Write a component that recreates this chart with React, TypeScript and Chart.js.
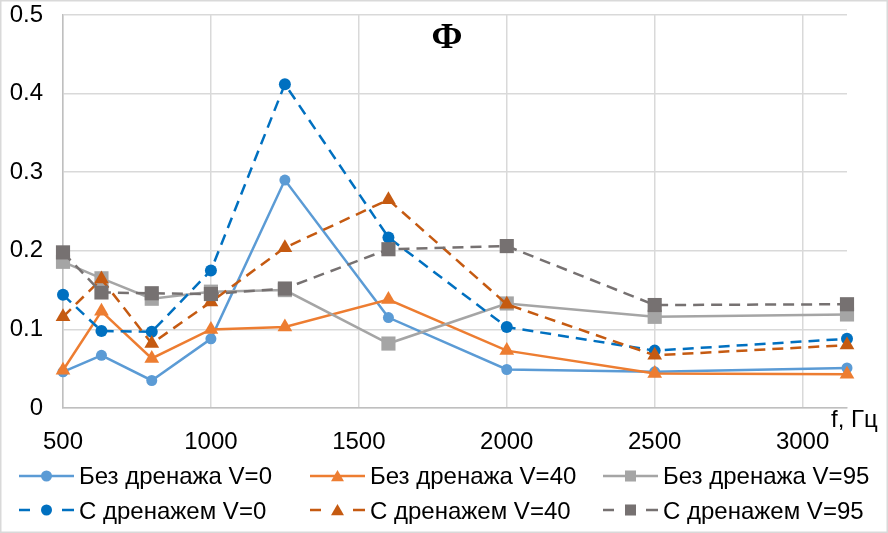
import React, { useEffect, useRef } from "react";
import { Chart, registerables } from "chart.js";

Chart.register(...registerables);

const frequencies = [500, 630, 800, 1000, 1250, 1600, 2000, 2500, 3150];
const noDrainV0 = [0.046, 0.067, 0.035, 0.088, 0.29, 0.115, 0.049, 0.046, 0.051];
const noDrainV40 = [0.048, 0.123, 0.063, 0.1, 0.103, 0.138, 0.073, 0.044, 0.043];
const noDrainV95 = [0.186, 0.165, 0.139, 0.148, 0.15, 0.082, 0.133, 0.116, 0.119];
const drainV0 = [0.144, 0.098, 0.097, 0.175, 0.412, 0.217, 0.103, 0.073, 0.088];
const drainV40 = [0.116, 0.164, 0.082, 0.135, 0.204, 0.265, 0.132, 0.067, 0.08];
const drainV95 = [0.198, 0.147, 0.146, 0.145, 0.152, 0.202, 0.206, 0.131, 0.132];

const xTicks = [500, 1000, 1500, 2000, 2500, 3000];
const yTicks = [0, 0.1, 0.2, 0.3, 0.4, 0.5];

const seriesLabels = [
  "Без дренажа V=0",
  "Без дренажа V=40",
  "Без дренажа V=95",
  "С дренажем V=0",
  "С дренажем V=40",
  "С дренажем V=95",
];
const titleText = "Ф";
const xAxisTitle = "f, Гц";

const FONT = "'Liberation Sans', Arial, sans-serif";

type Style = { color: string; shape: "circle" | "triangle" | "rect"; dashed: boolean; r: number };
const styles: Style[] = [
  { color: "#5B9BD5", shape: "circle", dashed: false, r: 5.5 },
  { color: "#ED7D31", shape: "triangle", dashed: false, r: 8.5 },
  { color: "#A5A5A5", shape: "rect", dashed: false, r: 10 },
  { color: "#0070C0", shape: "circle", dashed: true, r: 6 },
  { color: "#C55A11", shape: "triangle", dashed: true, r: 8.5 },
  { color: "#767171", shape: "rect", dashed: true, r: 10 },
];

function drawMarker(ctx: CanvasRenderingContext2D, shape: string, x: number, y: number, r: number, color: string) {
  ctx.save();
  ctx.fillStyle = color;
  ctx.beginPath();
  if (shape === "circle") {
    ctx.arc(x, y, r, 0, Math.PI * 2);
  } else if (shape === "triangle") {
    let rad = 0;
    ctx.moveTo(x + Math.sin(rad) * r, y - Math.cos(rad) * r);
    rad += (Math.PI * 2) / 3;
    ctx.lineTo(x + Math.sin(rad) * r, y - Math.cos(rad) * r);
    rad += (Math.PI * 2) / 3;
    ctx.lineTo(x + Math.sin(rad) * r, y - Math.cos(rad) * r);
    ctx.closePath();
  } else {
    const s = r * Math.SQRT1_2;
    ctx.rect(x - s, y - s, 2 * s, 2 * s);
  }
  ctx.fill();
  ctx.restore();
}

const overlayPlugin = {
  id: "overlay",
  beforeDraw(chart: any) {
    const ctx = chart.ctx as CanvasRenderingContext2D;
    ctx.save();
    ctx.fillStyle = "#ffffff";
    ctx.fillRect(0, 0, chart.width, chart.height);
    ctx.restore();
  },
  afterDraw(chart: any) {
    const ctx = chart.ctx as CanvasRenderingContext2D;
    const area = chart.chartArea;
    ctx.save();
    // outer border
    ctx.strokeStyle = "#d9d9d9";
    ctx.lineWidth = 1.5;
    ctx.strokeRect(0.75, 0.75, chart.width - 1.5, chart.height - 1.5);

    // title
    ctx.fillStyle = "#000";
    ctx.font = `bold 36px 'Liberation Serif', 'Times New Roman', serif`;
    ctx.textAlign = "center";
    ctx.textBaseline = "alphabetic";
    ctx.fillText(titleText, 447, 48);

    // x axis title
    ctx.font = `24px ${FONT}`;
    ctx.textAlign = "left";
    ctx.fillText(xAxisTitle, area.right - 16, 427);

    // legend
    const colX = [19, 310, 603];
    const rowY = [476, 510];
    const baseY = [484, 519];
    const sampleLen = 55;
    for (let i = 0; i < 6; i++) {
      const st = styles[i];
      const row = i < 3 ? 0 : 1;
      const col = i % 3;
      const x0 = colX[col];
      const y = rowY[row];
      ctx.strokeStyle = st.color;
      ctx.lineWidth = 2.5;
      ctx.setLineDash([]);
      ctx.beginPath();
      if (st.dashed) {
        ctx.moveTo(x0, y);
        ctx.lineTo(x0 + 11, y);
        ctx.moveTo(x0 + 43, y);
        ctx.lineTo(x0 + sampleLen, y);
      } else {
        ctx.moveTo(x0, y);
        ctx.lineTo(x0 + sampleLen, y);
      }
      ctx.stroke();
      const mr = st.shape === "circle" ? 5.5 : st.shape === "triangle" ? 7.5 : 7.8;
      const my = st.shape === "triangle" ? y + 1.5 : y;
      drawMarker(ctx, st.shape, x0 + sampleLen / 2, my, mr, st.color);
      ctx.fillStyle = "#000";
      ctx.font = `24px ${FONT}`;
      ctx.textAlign = "left";
      ctx.textBaseline = "alphabetic";
      ctx.fillText(seriesLabels[i], x0 + 60, baseY[row]);
    }
    ctx.restore();
  },
};

export default function App() {
  const canvasRef = useRef<HTMLCanvasElement | null>(null);

  useEffect(() => {
    document.body.style.margin = "0";
    const canvas = canvasRef.current;
    if (!canvas) return;
    const allSeries = [noDrainV0, noDrainV40, noDrainV95, drainV0, drainV40, drainV95];
    const datasets = allSeries.map((vals, i) => {
      const st = styles[i];
      return {
        label: seriesLabels[i],
        data: frequencies.map((f, k) => ({ x: f, y: vals[k] })),
        borderColor: st.color,
        backgroundColor: st.color,
        borderWidth: 2.5,
        borderDash: st.dashed ? [11, 7] : [],
        pointStyle: st.shape,
        pointRadius: st.r,
        pointHoverRadius: st.r,
        pointBackgroundColor: st.color,
        pointBorderColor: st.color,
        pointBorderWidth: 0,
        tension: 0,
        fill: false,
        clip: false as any,
        order: 5 - i,
      };
    });

    const chart = new Chart(canvas, {
      type: "line",
      data: { datasets },
      plugins: [overlayPlugin],
      options: {
        animation: false,
        responsive: true,
        maintainAspectRatio: false,
        layout: { autoPadding: false, padding: { left: 0, right: 41, top: 15, bottom: 80 } },
        plugins: {
          legend: { display: false },
          title: { display: false },
          tooltip: { enabled: false },
        },
        scales: {
          x: {
            type: "linear",
            min: 500,
            max: 3150,
            afterBuildTicks: (s: any) => {
              s.ticks = xTicks.map((v) => ({ value: v }));
            },
            afterFit: (s: any) => {
              s.height = 45;
              s.paddingLeft = 0;
              s.paddingRight = 0;
            },
            ticks: {
              padding: 20,
              color: "#000",
              font: { family: FONT, size: 24 },
              maxRotation: 0,
              autoSkip: false,
              callback: (v: any) => String(v),
            },
            grid: { color: "#d9d9d9", lineWidth: 1.5, drawTicks: false },
            border: { color: "#bfbfbf", width: 1.5 },
          },
          y: {
            type: "linear",
            min: 0,
            max: 0.5,
            afterBuildTicks: (s: any) => {
              s.ticks = yTicks.map((v) => ({ value: v }));
            },
            afterFit: (s: any) => {
              s.width = 63;
              s.paddingTop = 0;
              s.paddingBottom = 0;
            },
            ticks: {
              padding: 20,
              color: "#000",
              font: { family: FONT, size: 24 },
              callback: (v: any) => String(Math.round(Number(v) * 10) / 10),
            },
            grid: { color: "#d9d9d9", lineWidth: 1.5, drawTicks: false },
            border: { color: "#bfbfbf", width: 1.5 },
          },
        },
      },
    });
    return () => chart.destroy();
  }, []);

  return (
    <div style={{ width: 888, height: 533, position: "relative" }}>
      <canvas ref={canvasRef} />
    </div>
  );
}
